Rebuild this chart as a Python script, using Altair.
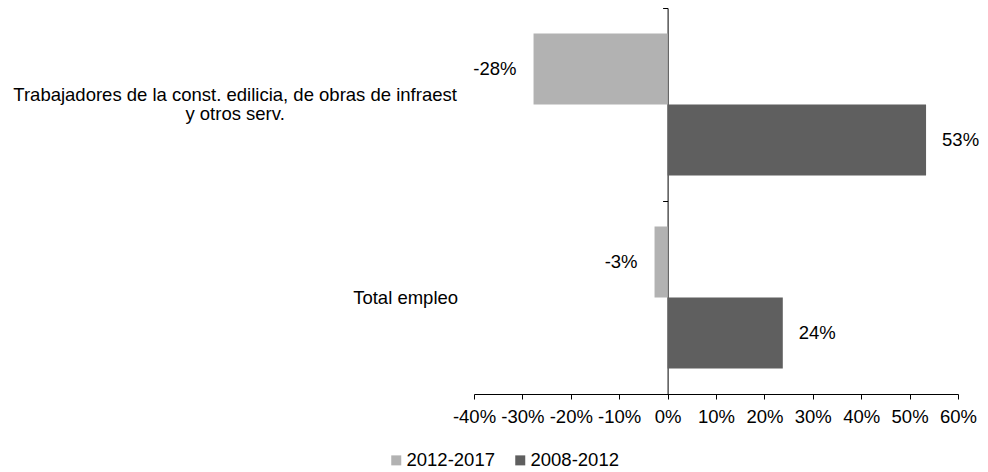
import altair as alt
import pandas as pd

# ---- data ----
categories = [
    "Trabajadores de la const. edilicia, de obras de infraest y otros serv.",
    "Total empleo",
]
series = ["2012-2017", "2008-2012"]
values_2012_2017 = [-0.277, -0.027]
values_2008_2012 = [0.534, 0.238]
x_ticks = [-0.4, -0.3, -0.2, -0.1, 0.0, 0.1, 0.2, 0.3, 0.4, 0.5, 0.6]
colors = ["#B2B2B2", "#5F5F5F"]

rows = []
for i, c in enumerate(categories):
    rows.append({"category": c, "series": series[0], "value": values_2012_2017[i]})
    rows.append({"category": c, "series": series[1], "value": values_2008_2012[i]})
df = pd.DataFrame(rows)

FONT = "Liberation Sans"
FS = 18.5
W = 484
H = 386

y_label_expr = (
    "indexof(datum.label, ' y otros') > 0 ? "
    "[substring(datum.label, 0, indexof(datum.label, ' y otros')), "
    "substring(datum.label, indexof(datum.label, ' y otros') + 1)] : datum.label"
)
is_total = "datum.value == 'Total empleo'"

y_axis = alt.Axis(
    title=None,
    offset=-0.4 * W,
    domain=True,
    domainColor="#000000",
    domainWidth=1,
    ticks=True,
    tickBand="extent",
    tickSize=5,
    tickColor="#000000",
    labelExpr=y_label_expr,
    labelFont=FONT,
    labelFontSize=FS,
    labelColor="#000000",
    labelLineHeight=19,
    labelLimit=0,
    labelAlign={"condition": {"test": is_total, "value": "right"}, "value": "center"},
    labelPadding={"condition": {"test": is_total, "value": 205}, "value": 428},
    labelOffset={"condition": {"test": is_total, "value": 0}, "value": -10},
)

x_axis = alt.Axis(
    title=None,
    values=x_ticks,
    labelExpr="(datum.value < -0.0001 ? '-' : '') + format(abs(datum.value), '.0%')",
    grid=False,
    domainColor="#000000",
    tickColor="#000000",
    tickSize=5,
    labelFont=FONT,
    labelFontSize=FS,
    labelColor="#000000",
    labelPadding=8,
    labelFlush=False,
    labelOverlap=False,
)

base = alt.Chart(df).transform_calculate(
    lbl="(datum.value < 0 ? '-' : '') + format(abs(datum.value), '.0%')"
).encode(
    y=alt.Y("category:N", sort=categories,
            scale=alt.Scale(paddingInner=0, paddingOuter=0), axis=y_axis),
    yOffset=alt.YOffset("series:N", sort=series,
                        scale=alt.Scale(paddingInner=0, paddingOuter=0.359)),
    x=alt.X("value:Q", scale=alt.Scale(domain=[-0.4, 0.6], nice=False), axis=x_axis),
)

bars = base.mark_bar().encode(
    color=alt.Color(
        "series:N",
        sort=series,
        scale=alt.Scale(domain=series, range=colors),
        legend=alt.Legend(
            title=None,
            orient="none",
            legendX=-87,
            legendY=443,
            direction="horizontal",
            symbolType="square",
            symbolSize=100,
            symbolStrokeWidth=0,
            labelFont=FONT,
            labelFontSize=FS,
            labelColor="#000000",
            labelOffset=1,
            columnPadding=16,
            padding=0,
        ),
    )
)

neg_text = base.transform_filter("datum.value < 0").mark_text(
    align="right", baseline="middle", dx=-17, font=FONT, fontSize=FS, color="#000000"
).encode(text="lbl:N")

pos_text = base.transform_filter("datum.value >= 0").mark_text(
    align="left", baseline="middle", dx=16, font=FONT, fontSize=FS, color="#000000"
).encode(text="lbl:N")

chart = alt.layer(bars, neg_text, pos_text).properties(
    width=W,
    height=H,
    autosize=alt.AutoSizeParams(type="none"),
    padding={"left": 466, "top": 0, "right": 972 - 466 - W, "bottom": 76},
).configure(background="#ffffff").configure_view(stroke=None)

chart.save("out.html", embed_options={"renderer": "svg", "actions": False})
